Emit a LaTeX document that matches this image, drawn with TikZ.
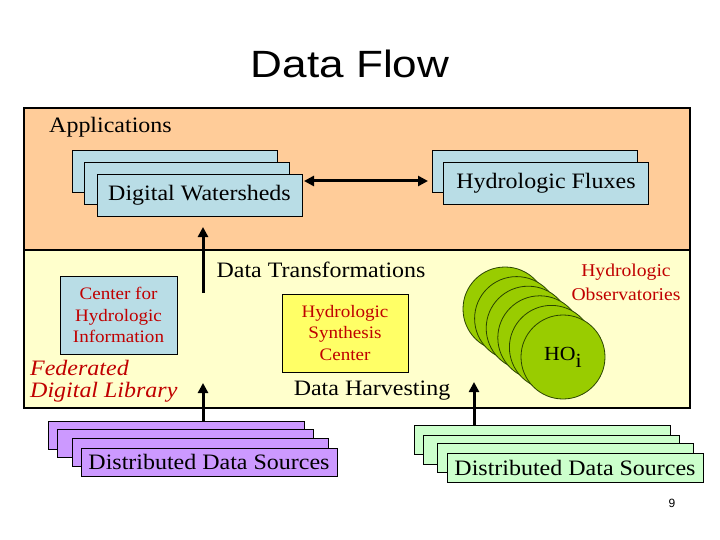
\documentclass[tikz,border=0pt]{standalone}
\usepackage{fontspec}
\setmainfont{Liberation Serif}[FakeStretch=1.09]
\newfontfamily\arialf{Liberation Sans}[FakeStretch=1.16]
\newfontfamily\arialn{Liberation Sans}
\usetikzlibrary{arrows.meta}
\definecolor{appbg}{HTML}{FFCC99}
\definecolor{lowbg}{HTML}{FFFFCC}
\definecolor{lblue}{HTML}{B9DDE6}
\definecolor{hscyel}{HTML}{FFFF66}
\definecolor{hogreen}{HTML}{99CC00}
\definecolor{hoedge}{HTML}{2A4400}
\definecolor{purp}{HTML}{CC99FF}
\definecolor{lgreen}{HTML}{CCFFCC}
\definecolor{dred}{HTML}{C00000}
\begin{document}
\begin{tikzpicture}[x=1pt,y=-1pt,
  panel/.style={draw=black, line width=2pt, inner sep=0pt},
  card/.style={draw=black, line width=0.8pt, inner sep=0pt, font=\fontsize{22}{24}\selectfont},
  bluecard/.style={card, fill=lblue, minimum width=205pt, minimum height=42pt},
  purpcard/.style={card, fill=purp, minimum width=256pt, minimum height=28pt},
  greencard/.style={card, fill=lgreen, minimum width=256pt, minimum height=29pt},
  redbox/.style={draw=black, line width=0.8pt, inner sep=0pt, text=dred, align=center,
    font=\fontsize{17.5}{21.5}\selectfont},
  label/.style={inner sep=0pt, font=\fontsize{22}{24}\selectfont},
  ho/.style={circle, draw=hoedge, line width=0.8pt, fill=hogreen, minimum size=84pt, inner sep=0pt,
    font=\fontsize{20}{24}\selectfont},
  arr/.style={line width=3pt, -{Triangle[length=10pt,width=10pt]}},
  darr/.style={line width=3pt, {Triangle[length=10pt,width=10pt]}-{Triangle[length=10pt,width=10pt]}}
]
\useasboundingbox (0,0) rectangle (720,540);
\fill[white] (0,0) rectangle (720,540);

% title
\node[inner sep=0pt, font=\arialf\fontsize{38}{40}\selectfont] (title) at (350,64) {Data Flow};

% panels
\node[panel, fill=lowbg, minimum width=666pt, minimum height=158pt] (low) at (357,329) {};
\node[panel, fill=appbg, minimum width=666pt, minimum height=142pt] (app) at (357,179) {};

\node[label, anchor=west] (applab) at (49,127) {Applications};

% left stack
\node[bluecard] (dw1) at (174.5,171) {};
\node[bluecard] (dw2) at (186.5,183) {};
\node[bluecard] (dw3) at (199.5,195) {Digital Watersheds};

% right stack
\node[bluecard] (hf1) at (534.5,171) {};
\node[bluecard] (hf2) at (546,183) {Hydrologic Fluxes};

\coordinate (dl) at (304,181);
\coordinate (dr) at (428,181);
\draw[darr] (dl) -- (dr);

% lower panel contents
\node[label] (dtrans) at (321,270) {Data Transformations};
\node[label] (dharv) at (372,391) {Data Harvesting};

\node[redbox, fill=lblue, minimum width=117pt, minimum height=78pt] (chi) at (118.5,315)
  {Center for\\Hydrologic\\Information};
\node[redbox, fill=hscyel, minimum width=126pt, minimum height=78pt] (hsc) at (345,333)
  {Hydrologic\\Synthesis\\Center};

\node[inner sep=0pt, anchor=west, align=left, text=dred,
  font=\itshape\fontsize{22}{22}\selectfont] (fdl) at (30,381) {Federated\\Digital Library};

\node[inner sep=0pt, align=center, text=dred, font=\fontsize{18}{24}\selectfont] (hobs) at (626,282)
  {Hydrologic\\Observatories};

% observatories
\node[ho] (ho1) at (505,309) {};
\node[ho] (ho2) at (516.6,318.6) {};
\node[ho] (ho3) at (528.2,328.2) {};
\node[ho] (ho4) at (539.8,337.8) {};
\node[ho] (ho5) at (551.4,347.4) {};
\node[ho] (ho6) at (563,357) {\raisebox{2pt}{HO}\raisebox{-5pt}{i}};

% bottom stacks
\node[purpcard] (ps1) at (176,435) {};
\node[purpcard] (ps2) at (185,443) {};
\node[purpcard] (ps3) at (200,452) {};
\node[purpcard] (ps4) at (209,462) {Distributed Data Sources};

\node[greencard] (gs1) at (542,439.5) {};
\node[greencard] (gs2) at (551,449.5) {};
\node[greencard] (gs3) at (565,457.5) {};
\node[greencard] (gs4) at (575,467.5) {Distributed Data Sources};

% vertical arrows
\coordinate (a1s) at (203,293);
\coordinate (a1t) at (203,227);
\draw[arr] (a1s) -- (a1t);
\coordinate (a2t) at (203,383);
\draw[arr] (a2t |- ps1.north) -- (a2t);
\coordinate (a3t) at (474,382);
\draw[arr] (a3t |- gs1.north) -- (a3t);

\node[inner sep=0pt, font=\arialn\fontsize{12}{12}\selectfont] (pg) at (672,503) {9};
\end{tikzpicture}
\end{document}
